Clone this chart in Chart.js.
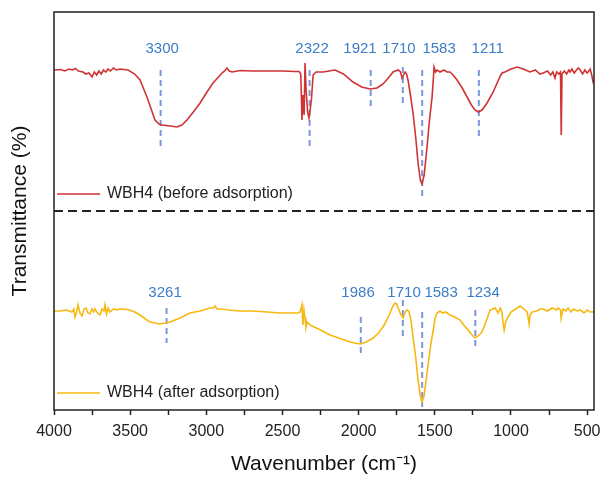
<!DOCTYPE html>
<html>
<head>
<meta charset="utf-8">
<script src="https://cdn.jsdelivr.net/npm/chart.js@4"></script>
<style>
  html, body { margin: 0; padding: 0; background: #fff; }
  #wrap { width: 601px; height: 477px; }
</style>
</head>
<body>
<div id="wrap"><canvas id="myChart" width="601" height="477"></canvas></div>
<script>
// spectra (wavenumber, transmittance in arbitrary offset units)
const beforeWn = [4000,3960,3930,3900,3880,3860,3840,3810,3790,3770,3750,3735,3720,3705,3690,3675,3660,3645,3630,3610,3590,3567,3514,3470,3435,3390,3360,3337,3310,3291,3238,3193,3160,3127,3080,3041,3000,2956,2920,2897,2880,2864,2850,2831,2779,2700,2600,2500,2420,2390,2380,2372,2366,2358,2352,2345,2335,2326,2310,2299,2280,2234,2155,2100,2037,1980,1925,1880,1840,1800,1774,1760,1741,1725,1715,1705,1695,1685,1676,1660,1643,1625,1610,1595,1584,1570,1551,1535,1518,1508,1505,1495,1485,1466,1440,1420,1400,1380,1354,1320,1288,1260,1236,1216,1190,1157,1120,1091,1070,1058,1040,1000,960,920,875,840,810,789,760,740,725,711,700,685,675,670,665,650,635,620,612,600,585,570,558,546,530,515,500,494,480,470,461,455];
const beforeT = [340,340.5,339,341,340,341.5,339,338,336,337,333,338,335,339,336,340,338,341,339,342,340,341,340,336,330,313,300,290,286,285,284,283,285,290,299,307,317,327,333,337,339,342,339,338,339.5,339,339,339,338.5,338.5,336,290,315,295,347,320,298,292,310,335,338,338,340,336,328,323,321,322,326,333,338,339,340,338,332,335,338,336,330,315,297,272,247,230,226,235,263,290,313,335,343,338,340,338,340,338,338,335,330,322,313,305,300,298,300,307,317,327,334,337,338,341,343,341,338,340,336,337,339,335,338,332,338,336,338,275,336,339,336,340,338,341,337,340,342,340,336,340,337,338,341,335,328,330];

const afterWn = [4000,3960,3920,3900,3882,3870,3862,3852,3842,3830,3816,3803,3790,3777,3764,3750,3740,3731,3715,3698,3685,3672,3665,3655,3645,3632,3610,3590,3567,3514,3470,3435,3400,3370,3304,3238,3173,3107,3041,2976,2955,2943,2930,2900,2850,2779,2700,2600,2516,2440,2398,2385,2372,2366,2359,2352,2346,2338,2319,2250,2188,2130,2076,2030,1991,1950,1905,1870,1840,1815,1794,1775,1761,1750,1741,1725,1708,1695,1682,1669,1655,1643,1625,1610,1595,1584,1572,1557,1540,1525,1510,1498,1485,1466,1450,1430,1400,1370,1334,1310,1282,1255,1236,1215,1190,1165,1137,1120,1104,1085,1070,1060,1050,1045,1035,1019,1000,970,940,915,894,887,881,875,862,830,810,789,760,730,700,691,675,671,665,658,640,625,605,590,566,545,520,500,480,461,455];
const afterT = [99,99,100,99,98,101,93,98,105,97,94,101,102,97,96,101,98,101,97,95,101,99,105,96,102,98,101,100,101,100.5,98,95,91,88,86,88,92,97,99,102,102,104,101,101,100,99,99,98,97,97,97,98,105,85,100,92,83,88,85,80,75,72,69,67,66,68,72,77,83,90,97,104,107,106,102,96,92,98,100,98,88,73,52,30,14,8,13,30,50,67,80,92,97,99,97,98,95,93,90,85,80,75,72,74,78,88,100,101,102,97,102,98,85,80,88,93,98,101,104,101,98,92,86,95,98,99,101,101,99,102,100,102,100,92,97,101,99,102,98,101,99,100,97,100,98,98,99];

// band markers: wavenumber, line top/bottom, label x position
const topBands   = [3300, 2322, 1921, 1710, 1583, 1211];
const topFrom    = [340, 340, 340, 343, 340, 340];
const topTo      = [260, 260, 303, 307, 213, 272];
const topLabelX  = [3290, 2306, 1991, 1735, 1472, 1153];
const topLabelY  = 361;

const botBands   = [3261, 1986, 1710, 1583, 1234];
const botFrom    = [102, 93, 110, 98, 100];
const botTo      = [67, 55, 73, 3, 62];
const botLabelX  = [3271, 2004, 1702, 1459, 1183];
const botLabelY  = 117;

const separatorY = 199;
const seriesNames = ['WBH4 (before adsorption)', 'WBH4 (after adsorption)'];
const legendY = [216, 17];

const RED = '#d03335';
const YELLOW = '#f6b912';
const MARK = '#7d97dc';
const LABEL = '#3c7cc8';
const FONT = '"Liberation Sans", Arial, sans-serif';

const toPts = (xs, ys) => xs.map((x, i) => ({x, y: ys[i]}));

const datasets = [
  { label: seriesNames[0], data: toPts(beforeWn, beforeT), borderColor: RED, borderWidth: 1.6 },
  { label: seriesNames[1], data: toPts(afterWn, afterT), borderColor: YELLOW, borderWidth: 1.6 },
  { label: 'sep', data: [{x: 4000, y: separatorY}, {x: 455, y: separatorY}], borderColor: '#222', borderWidth: 2, borderDash: [9, 5] }
];
topBands.forEach((b, i) => datasets.push({ label: 'm', data: [{x: b, y: topFrom[i]}, {x: b, y: topTo[i]}], borderColor: MARK, borderWidth: 2, borderDash: [6, 4] }));
botBands.forEach((b, i) => datasets.push({ label: 'm', data: [{x: b, y: botFrom[i]}, {x: b, y: botTo[i]}], borderColor: MARK, borderWidth: 2, borderDash: [6, 4] }));

const extras = {
  id: 'extras',
  afterDatasetsDraw(chart) {
    const { ctx, chartArea: a, scales: { x, y } } = chart;
    ctx.save();
    // band labels
    ctx.font = '15px ' + FONT;
    ctx.fillStyle = LABEL;
    ctx.textAlign = 'center';
    ctx.textBaseline = 'middle';
    topBands.forEach((b, i) => ctx.fillText(String(b), x.getPixelForValue(topLabelX[i]), y.getPixelForValue(topLabelY)));
    botBands.forEach((b, i) => ctx.fillText(String(b), x.getPixelForValue(botLabelX[i]), y.getPixelForValue(botLabelY)));
    // legends
    ctx.font = '16px ' + FONT;
    ctx.fillStyle = '#222';
    ctx.textAlign = 'left';
    [RED, YELLOW].forEach((c, i) => {
      const py = y.getPixelForValue(legendY[i]);
      ctx.strokeStyle = c;
      ctx.lineWidth = 1.6;
      ctx.beginPath();
      ctx.moveTo(a.left + 3, py);
      ctx.lineTo(a.left + 46, py);
      ctx.stroke();
      ctx.fillText(seriesNames[i], a.left + 53, py);
    });
    // frame
    ctx.strokeStyle = '#222';
    ctx.lineWidth = 1.5;
    ctx.strokeRect(a.left, a.top, a.right - a.left, a.bottom - a.top);
    ctx.restore();
  }
};

const config = {
  type: 'line',
  data: { datasets },
  options: {
    responsive: false,
    animation: false,
    parsing: false,
    layout: { padding: { top: 12, right: 7, left: 0, bottom: 0 } },
    elements: { point: { radius: 0 }, line: { tension: 0 } },
    plugins: { legend: { display: false }, tooltip: { enabled: false } },
    scales: {
      x: {
        type: 'linear',
        reverse: true,
        min: 455,
        max: 4000,
        afterFit(scale) { scale.height = 67; },
        afterBuildTicks(scale) {
          const t = [];
          for (let v = 500; v <= 4000; v += 250) t.push({ value: v });
          scale.ticks = t;
        },
        ticks: {
          autoSkip: false,
          maxRotation: 0,
          padding: 7,
          color: '#222',
          font: { family: FONT, size: 16 },
          callback: v => (v % 500 === 0 ? String(v) : '')
        },
        grid: { drawOnChartArea: false, drawTicks: true, tickLength: 5, color: '#222', tickWidth: 1.5 },
        border: { display: false },
        title: { display: true, text: 'Wavenumber (cm⁻¹)', color: '#111', font: { family: FONT, size: 21 }, padding: { top: 4, bottom: 0 } }
      },
      y: {
        min: 0,
        max: 398,
        afterFit(scale) { scale.width = 54; },
        ticks: { display: false },
        grid: { display: false },
        border: { display: false },
        title: { display: true, text: 'Transmittance (%)', color: '#111', font: { family: FONT, size: 21 }, padding: { top: 8, bottom: 0 } }
      }
    }
  },
  plugins: [extras]
};

const myChart = new Chart(document.getElementById('myChart'), config);
</script>
</body>
</html>
